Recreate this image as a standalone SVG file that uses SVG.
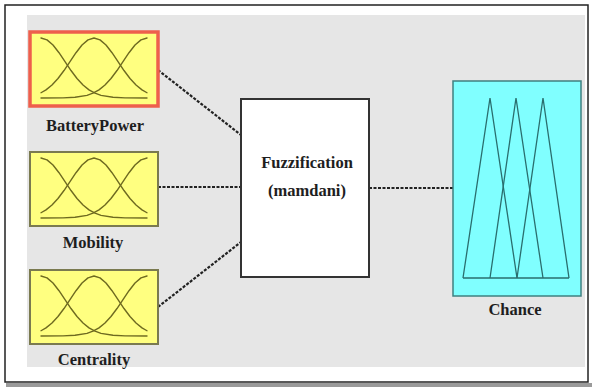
<svg xmlns="http://www.w3.org/2000/svg" width="592" height="387" viewBox="0 0 592 387">
  <style>
    .lbl { font-family: "Liberation Serif", "Times New Roman", serif; font-weight: bold; font-size: 16.5px; fill: #1e1e1e; text-anchor: middle; }
    .mf { fill: #ffff80; stroke: #7a7a50; stroke-width: 2; }
    .curve { fill: none; stroke: #6e6a20; stroke-width: 1.4; stroke-linejoin: round; stroke-linecap: round; }
    .tri { fill: none; stroke: #2a6e6e; stroke-width: 1.3; stroke-linejoin: miter; }
    .conn { fill: none; stroke: #222; stroke-width: 2.2; stroke-dasharray: 3 1.5; }
  </style>
  <defs>
    <g id="gauss">
      <polyline class="curve" points="11,6 17,7.86 23,13.05 29,20.71 35,29.61 41,38.53 47,46.52 53,53.02 59,57.88 65,61.2 71,63.4 83,65.3 95,65.9 117,66"/>
      <polyline class="curve" points="117,6 111,7.86 105,13.05 99,20.71 93,29.61 87,38.53 81,46.52 75,53.02 69,57.88 63,61.2 57,63.4 45,65.3 33,65.9 11,66"/>
      <polyline class="curve" points="11,60.76 16,57.88 22,53.02 28,46.52 34,38.53 40,29.61 46,20.71 52,13.05 58,7.86 64,6 70,7.86 76,13.05 82,20.71 88,29.61 94,38.53 100,46.52 106,53.02 112,57.88 117,60.76"/>
    </g>
  </defs>

  <rect x="0" y="0" width="592" height="387" fill="#ffffff"/>
  <!-- frame -->
  <rect x="6" y="383" width="586" height="4" fill="#9a9a9a"/>
  <rect x="5" y="5" width="583" height="377" fill="#ffffff" stroke="#222" stroke-width="1.5"/>
  <!-- background -->
  <rect x="27" y="15" width="558" height="352" fill="#e6e6e6"/>

  <g id="connectors">
    <line class="conn" x1="158" y1="70" x2="241" y2="135"/>
    <line class="conn" x1="158" y1="187" x2="241" y2="187"/>
    <line class="conn" x1="158" y1="307" x2="241" y2="242"/>
    <line class="conn" x1="369" y1="188" x2="453" y2="188"/>
  </g>

  <g id="batterypower">
    <rect x="30" y="32" width="128" height="74" fill="#ffff80" stroke="#ee5f4c" stroke-width="3.5"/>
    <use href="#gauss" transform="translate(30,32)"/>
    <text class="lbl" x="95" y="131">BatteryPower</text>
  </g>

  <g id="mobility">
    <rect class="mf" x="30" y="152" width="128" height="74"/>
    <use href="#gauss" transform="translate(30,152)"/>
    <text class="lbl" x="93" y="248">Mobility</text>
  </g>

  <g id="centrality">
    <rect class="mf" x="30" y="270" width="128" height="74"/>
    <use href="#gauss" transform="translate(30,270)"/>
    <text class="lbl" x="94" y="365">Centrality</text>
  </g>

  <g id="fuzzification">
    <rect x="241" y="99" width="128" height="178" fill="#ffffff" stroke="#333" stroke-width="2"/>
    <text class="lbl" x="307" y="168">Fuzzification</text>
    <text class="lbl" x="307" y="196">(mamdani)</text>
  </g>

  <g id="chance">
    <rect x="453" y="81" width="128" height="215" fill="#80ffff" stroke="#3f8080" stroke-width="1.5"/>
    <polyline class="tri" points="463,278 490,98 517,278"/>
    <polyline class="tri" points="490,278 516,98 543,278"/>
    <polyline class="tri" points="517,278 543,98 569,278"/>
    <line class="tri" x1="463" y1="278" x2="569" y2="278"/>
    <text class="lbl" x="515" y="315">Chance</text>
  </g>
</svg>
